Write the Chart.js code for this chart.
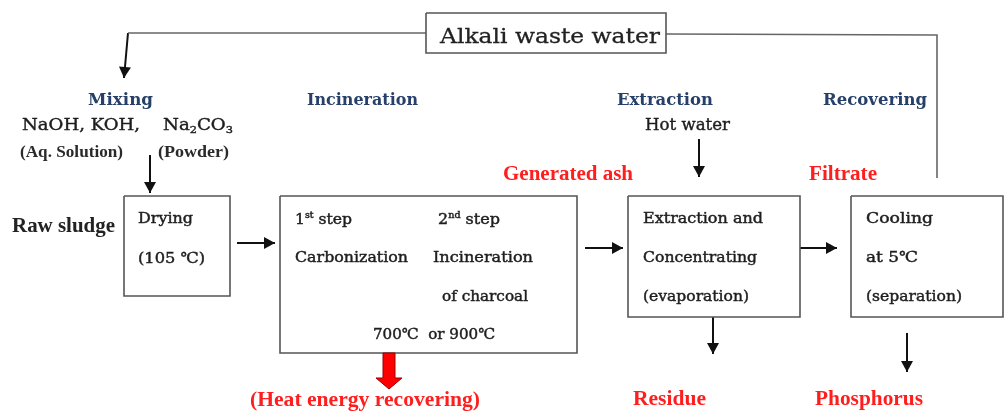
<!DOCTYPE html>
<html><head><meta charset="utf-8">
<script src="https://cdn.jsdelivr.net/npm/chart.js@4/dist/chart.umd.min.js"></script>
<style>html,body{margin:0;padding:0;background:#fff;}canvas{display:block;}</style>
</head><body>
<canvas id="c" width="1005" height="411"></canvas>
<script>
// ---- flowchart content (diagram coordinates: x 0..1005, y 0..411 top-down) ----
const boxNames = ['Alkali waste water', 'Drying', 'Incineration', 'Extraction', 'Cooling'];
const boxRects = [[426,13,666,53],[124,196,230,296],[280,196,577,353],[628,196,800,317],[851,196,1003,317]];

const connectorPaths = [
  [[426,33],[128,33]],
  [[666,34],[937,35],[937,178]]
];

const arrowFrom = [[128,33],[150,155],[699,139],[237,243],[585,248],[800,248],[713,317],[907,333]];
const arrowTo   = [[124,78],[150,193],[699,177],[275,243],[623,248],[837,248],[713,354],[907,372]];

const heatArrow = {x:389, top:353, headStart:378, tip:389};

const labelTexts = [
  'Alkali waste water',
  'Mixing','Incineration','Extraction','Recovering',
  'NaOH, KOH,','Na_{2}CO_{3}','(Aq. Solution)','(Powder)','Hot water',
  'Generated ash','Filtrate','Raw sludge',
  'Drying','(105 ℃)',
  '1^{st} step','2^{nd} step','Carbonization','Incineration','of charcoal','700℃  or 900℃',
  'Extraction and','Concentrating','(evaporation)',
  'Cooling','at 5℃','(separation)',
  '(Heat energy recovering)','Residue','Phosphorus'
];
// left x, centre y, width
const labelPos = [
  [440,38,220],
  [88,101,65],[307,101,111],[617,101,96],[823,101,104],
  [22,126,118],[163,126,70],[20,153,103],[158,153,71],[645,126,85],
  [503,175,130],[809,175,68],[12,227,103],
  [138,219,55],[138,259,67],
  [295,220,57],[438,220,62],[295,258,113],[433,258,100],[442,297,86],[373,335,122],
  [643,219,120],[643,258,114],[643,297,106],
  [866,219,67],[866,258,52],[866,297,96],
  [250,401,230],[633,400,73],[815,400,108]
];
const labelStyle = [
  'title',
  'head','head','head','head',
  'body','body','small','small','body',
  'red','red','raw',
  'box','box',
  'box','box','box','box','box','box',
  'box','box','box',
  'box','box','box',
  'red','red','red'
];

const styles = {
  title:{font:'normal 21px "DejaVu Serif"', color:'#222', weight:0.3},
  head:{font:'bold 17px "DejaVu Serif"', color:'#27406A', weight:0},
  body:{font:'normal 16px "DejaVu Serif"', color:'#1e1e1e', weight:0.4},
  small:{font:'bold 16px "Liberation Serif"', color:'#2a2a2a', weight:0},
  red:{font:'bold 20px "Liberation Serif"', color:'#FF1E1E', weight:0},
  raw:{font:'bold 21px "Liberation Serif"', color:'#222', weight:0},
  box:{font:'normal 15px "DejaVu Serif"', color:'#1e1e1e', weight:0.45}
};

// ---- datasets built from the arrays ----
const datasets = [];
boxRects.forEach((r,i)=>{
  datasets.push({label:boxNames[i], data:[{x:r[0],y:r[1]},{x:r[2],y:r[1]},{x:r[2],y:r[3]},{x:r[0],y:r[3]},{x:r[0],y:r[1]}],
    showLine:true, borderColor:'#555', borderWidth:1.6, pointRadius:0, fill:false, tension:0});
});
connectorPaths.forEach((p,i)=>{
  datasets.push({label:'conn'+i, data:p.map(q=>({x:q[0],y:q[1]})), showLine:true, borderColor:'#666', borderWidth:1.6, pointRadius:0, fill:false, tension:0});
});
arrowFrom.forEach((f,i)=>{
  const t = arrowTo[i];
  datasets.push({label:'arrow'+i, data:[{x:f[0],y:f[1]},{x:t[0],y:t[1]}], showLine:true, borderColor:'#111', borderWidth:2, pointRadius:0, fill:false, tension:0});
});

function parseRich(s){
  const segs=[]; const re=/(\^|_)\{([^}]*)\}/g; let last=0,m;
  while((m=re.exec(s))){ if(m.index>last) segs.push([s.slice(last,m.index),'n']); segs.push([m[2], m[1]==='^'?'sup':'sub']); last=re.lastIndex; }
  if(last<s.length) segs.push([s.slice(last),'n']);
  return segs;
}
function smallFont(f){ return f.replace(/(\d+)px/, (a,n)=>Math.round(n*0.62)+'px'); }

const drawPlugin = {
  id:'flow',
  beforeDraw(chart){ const c=chart.ctx; c.save(); c.fillStyle='#fff'; c.fillRect(0,0,chart.width,chart.height); c.restore(); },
  afterDatasetsDraw(chart){
    const ctx=chart.ctx, xs=chart.scales.x, ys=chart.scales.y;
    const X=v=>xs.getPixelForValue(v), Y=v=>ys.getPixelForValue(v);
    // arrow heads
    ctx.save(); ctx.fillStyle='#111';
    arrowFrom.forEach((f,i)=>{
      const t=arrowTo[i]; const x1=X(f[0]),y1=Y(f[1]),x2=X(t[0]),y2=Y(t[1]);
      const a=Math.atan2(y2-y1,x2-x1), L=11, W=6;
      ctx.beginPath(); ctx.moveTo(x2,y2);
      ctx.lineTo(x2-L*Math.cos(a)+W*Math.sin(a), y2-L*Math.sin(a)-W*Math.cos(a));
      ctx.lineTo(x2-L*Math.cos(a)-W*Math.sin(a), y2-L*Math.sin(a)+W*Math.cos(a));
      ctx.closePath(); ctx.fill();
    });
    ctx.restore();
    // red block arrow
    const h=heatArrow; const cx=X(h.x);
    ctx.save(); ctx.beginPath();
    ctx.moveTo(cx-6,Y(h.top)); ctx.lineTo(cx+6,Y(h.top)); ctx.lineTo(cx+6,Y(h.headStart)); ctx.lineTo(cx+13,Y(h.headStart));
    ctx.lineTo(cx,Y(h.tip)); ctx.lineTo(cx-13,Y(h.headStart)); ctx.lineTo(cx-6,Y(h.headStart)); ctx.closePath();
    ctx.fillStyle='#F00'; ctx.fill(); ctx.strokeStyle='#900'; ctx.lineWidth=1; ctx.stroke(); ctx.restore();
    // labels
    labelTexts.forEach((txt,i)=>{
      const p=labelPos[i], st=styles[labelStyle[i]];
      const segs=parseRich(txt);
      ctx.save(); ctx.textBaseline='middle'; ctx.fillStyle=st.color; ctx.strokeStyle=st.color; ctx.lineWidth=st.weight;
      let w=0; segs.forEach(s=>{ ctx.font = s[1]==='n'?st.font:smallFont(st.font); w+=ctx.measureText(s[0]).width; });
      const target = X(p[0]+p[2])-X(p[0]);
      ctx.translate(X(p[0]), Y(p[1])); ctx.scale(target/w,1);
      let x=0; const fs=parseInt(st.font.match(/(\d+)px/)[1]);
      segs.forEach(s=>{
        ctx.font = s[1]==='n'?st.font:smallFont(st.font);
        const dy = s[1]==='sup'? -fs*0.3 : s[1]==='sub'? fs*0.3 : 0;
        ctx.fillText(s[0], x, dy);
        if(st.weight>0) ctx.strokeText(s[0], x, dy);
        x+=ctx.measureText(s[0]).width;
      });
      ctx.restore();
    });
  }
};

new Chart(document.getElementById('c'), {
  type:'scatter',
  data:{datasets},
  options:{
    responsive:false, animation:false, events:[],
    layout:{padding:0},
    plugins:{legend:{display:false}, tooltip:{enabled:false}},
    scales:{
      x:{type:'linear', min:0, max:1005, display:false},
      y:{type:'linear', min:0, max:411, reverse:true, display:false}
    }
  },
  plugins:[drawPlugin]
});
</script>
</body></html>
